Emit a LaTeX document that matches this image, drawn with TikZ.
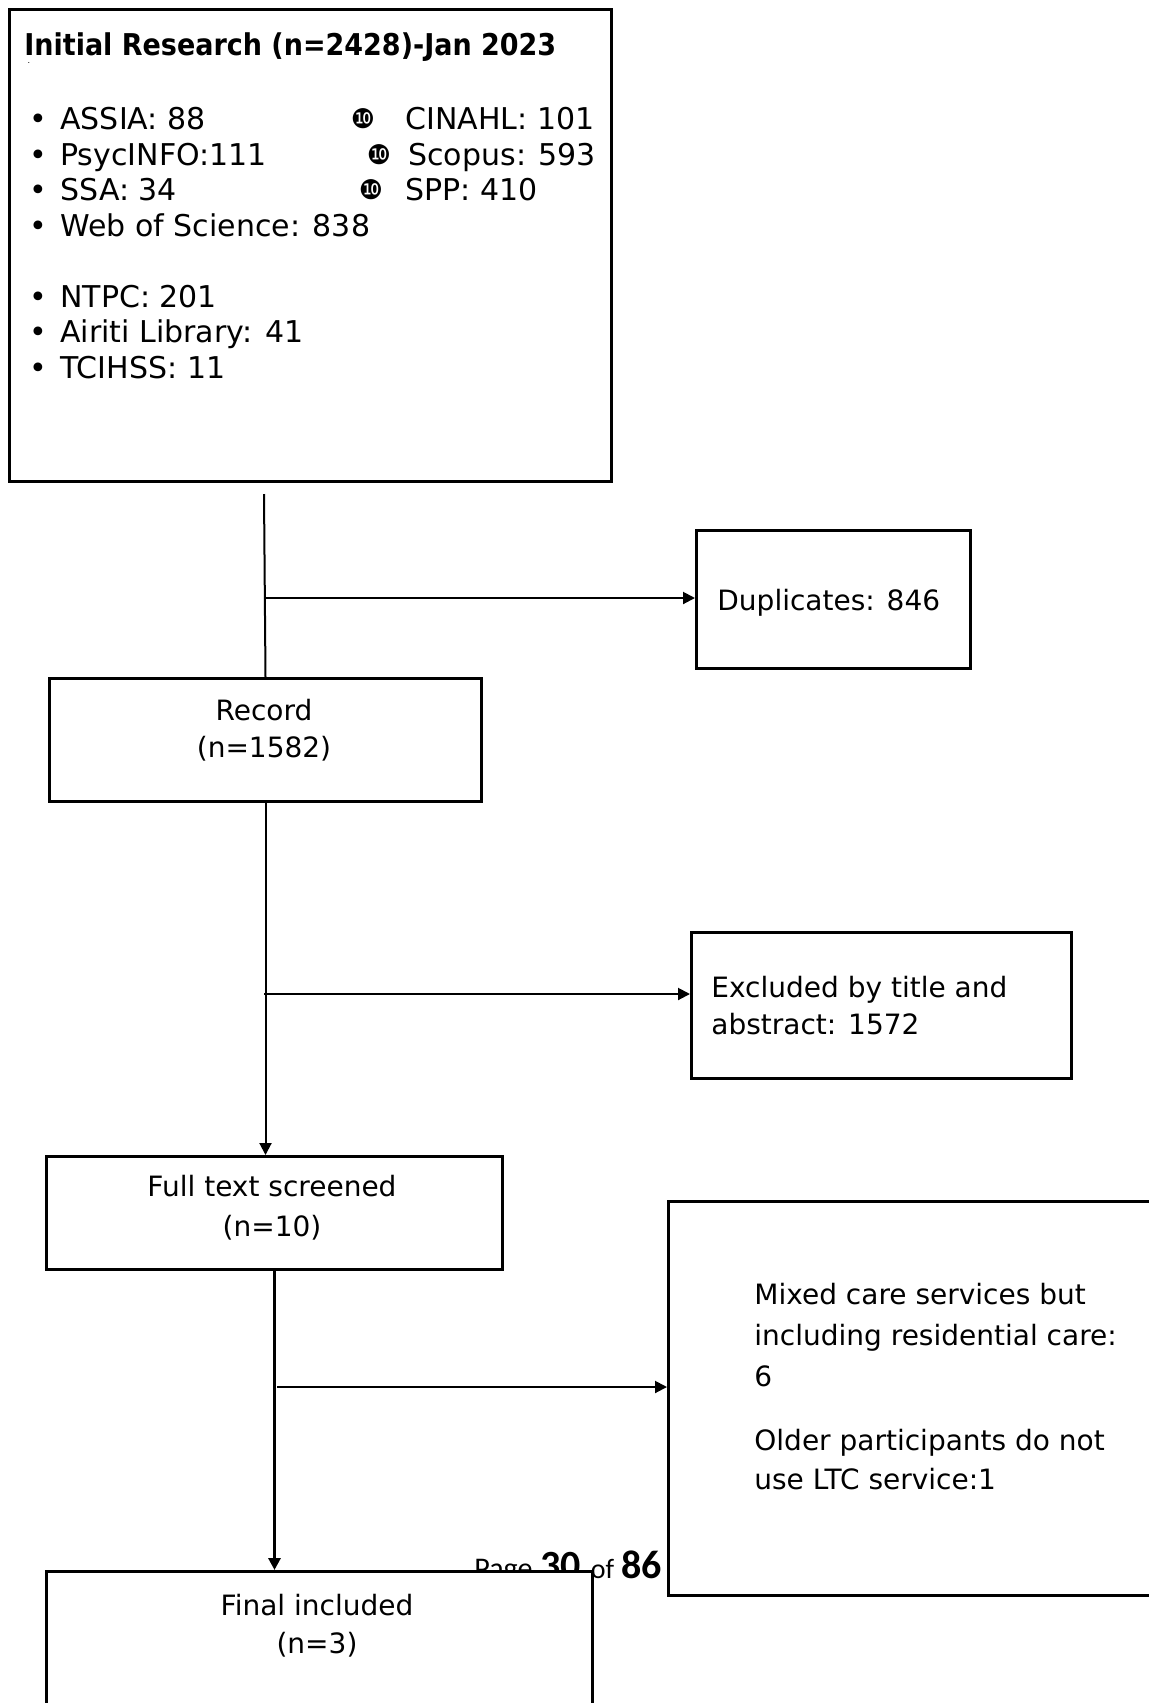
\documentclass[tikz,border=0pt]{standalone}
\usepackage{fontspec}
\setmainfont{DejaVu Sans}
\newfontfamily\headfont{DejaVu Sans Condensed}
\newfontfamily\pagefont{Carlito}
\newfontfamily\dingfont{DejaVu Sans}
\usetikzlibrary{arrows.meta}

\tikzset{
  box/.style={draw, line width=1.5pt, fill=white, inner sep=0pt, anchor=north west},
  txt/.style={font=\fontsize{14pt}{19pt}\selectfont, anchor=base west, inner sep=0pt},
  ctxt/.style={txt, anchor=base},
  item/.style={font=\fontsize{15pt}{18pt}\selectfont, anchor=base west, inner sep=0pt},
  bul/.style={font=\fontsize{15pt}{18pt}\selectfont, anchor=base, inner sep=0pt},
  ten/.style={font=\dingfont\fontsize{13.5pt}{14pt}\selectfont, anchor=center, inner sep=0pt},
  link/.style={line width=1pt},
  arr/.style={link, -{Triangle[length=6pt,width=6pt]}},
}

\begin{document}
\begin{tikzpicture}[x=0.5pt,y=-0.5pt]
  \useasboundingbox (0,0) rectangle (1148,1703);

  % search box
  \node[box, minimum width=301pt, minimum height=236pt] (search) at (8,8) {};
  \node[anchor=base west, inner sep=0pt, font=\headfont\bfseries\fontsize{15pt}{18pt}\selectfont] (title) at (24,55) {Initial Research (n=2428)-Jan 2023};
  \node[anchor=base, inner sep=0pt, font=\fontsize{4pt}{4pt}\selectfont] (mark) at (29,63) {.};

  \node[bul] (bul1) at (38,129) {•};
  \node[bul] (bul2) at (38,165) {•};
  \node[bul] (bul3) at (38,200) {•};
  \node[bul] (bul4) at (38,236) {•};
  \node[bul] (bul5) at (38,307) {•};
  \node[bul] (bul6) at (38,342) {•};
  \node[bul] (bul7) at (38,378) {•};
  \node[item] (assia) at (60,129) {ASSIA: 88};
  \node[item] (psyc) at (60,165) {PsycINFO:111};
  \node[item] (ssa) at (60,200) {SSA: 34};
  \node[item] (wos) at (60,236) {Web of Science: 838};
  \node[item] (ntpc) at (60,307) {NTPC: 201};
  \node[item] (airiti) at (60,342) {Airiti Library: 41};
  \node[item] (tcihss) at (60,378) {TCIHSS: 11};

  \node[ten] (ten1) at (363,119) {❿};
  \node[ten] (ten2) at (379,155) {❿};
  \node[ten] (ten3) at (371,190) {❿};
  \node[item] (cinahl) at (405,129) {CINAHL: 101};
  \node[item] (scopus) at (408,165) {Scopus: 593};
  \node[item] (spp) at (405,200) {SPP: 410};

  % side boxes
  \node[box, minimum width=137pt, minimum height=69pt] (dup) at (695,529) {};
  \node[txt] (duptxt) at (717,610) {Duplicates: 846};

  \node[box, minimum width=190pt, minimum height=73pt] (excl) at (690,931) {};
  \node[txt] (excl1) at (711,997) {Excluded by title and};
  \node[txt] (excl2) at (711,1034) {abstract: 1572};

  \node[box, minimum width=250pt, minimum height=197pt] (mixed) at (667,1200) {};
  \node[txt] (mix1) at (754,1304) {Mixed care services but};
  \node[txt] (mix2) at (754,1345) {including residential care:};
  \node[txt] (mix3) at (754,1386) {6};
  \node[txt] (mix4) at (754,1450) {Older participants do not};
  \node[txt] (mix5) at (754,1489) {use LTC service:1};

  % main column
  \node[box, minimum width=216pt, minimum height=61.5pt] (record) at (48,677) {};
  \node[ctxt] (rec1) at (264,720) {Record};
  \node[ctxt] (rec2) at (264,757) {(n=1582)};

  \node[box, minimum width=228pt, minimum height=56.5pt] (full) at (45,1155) {};
  \node[ctxt] (full1) at (272,1196) {Full text screened};
  \node[ctxt] (full2) at (272,1236) {(n=10)};

  % page footer (partly hidden by the last box)
  \node[anchor=base west, inner sep=0pt, font=\pagefont\fontsize{14pt}{14pt}\selectfont] (page) at (474,1578)
    {{\fontsize{15pt}{15pt}\selectfont Page}\hspace{4pt}{\bfseries\fontsize{20pt}{20pt}\selectfont 30}\hspace{5pt}of\hspace{3.5pt}{\bfseries\fontsize{20pt}{20pt}\selectfont 86}};

  \node[box, minimum width=273pt, minimum height=90pt] (final) at (45,1570) {};
  \node[ctxt] (fin1) at (317,1615) {Final included};
  \node[ctxt] (fin2) at (317,1653) {(n=3)};

  % connectors
  \coordinate (top) at (264,494);
  \coordinate (split1) at (264,598);
  \coordinate (split2) at (264,994);
  \coordinate (split3) at (277,1387);
  \draw[link] (top) -- (record.north);
  \draw[arr] (split1) -- (split1 -| dup.west);
  \draw[arr] (record.south) -- (record.south |- full.north);
  \draw[arr] (split2) -- (split2 -| excl.west);
  \draw[arr, line width=1.5pt] (full.south) -- (full.south |- final.north);
  \draw[arr] (split3) -- (split3 -| mixed.west);
\end{tikzpicture}
\end{document}
